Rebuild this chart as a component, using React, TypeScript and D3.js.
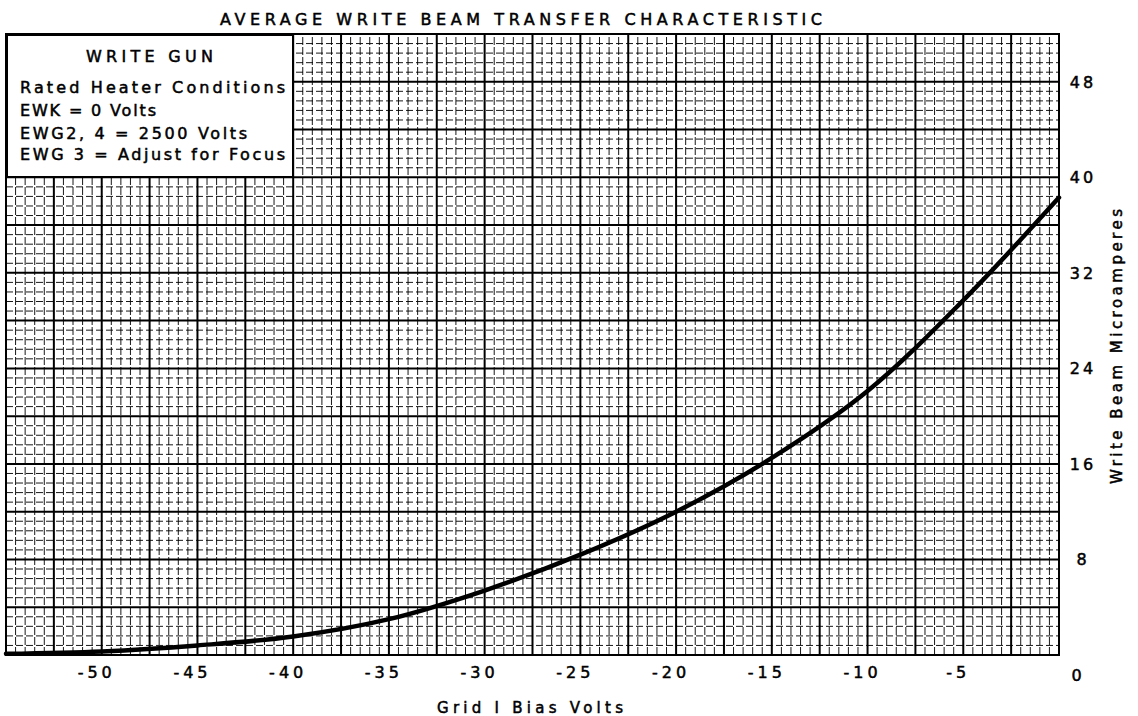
import * as d3 from "d3";
import { useEffect, useRef } from "react";

// curve: grid 1 bias (V) vs write beam current (uA)
const biasVolts = [-55, -50, -45, -40, -35, -30, -25, -20, -15, -10, -5, 0];
const beamMicroamps = [0.1, 0.3, 0.8, 1.55, 3.0, 5.4, 8.4, 12.0, 16.5, 22.1, 29.7, 38.3];

const xTickValues = [-50, -45, -40, -35, -30, -25, -20, -15, -10, -5];
const yTickValues = [0, 8, 16, 24, 32, 40, 48];

const titleText = "AVERAGE WRITE BEAM TRANSFER CHARACTERISTIC";
const xTitle = "Grid I Bias Volts";
const yTitle = "Write Beam Microamperes";
const legendHead = "WRITE GUN";
const legendLines = ["Rated Heater Conditions", "EWK = 0 Volts", "EWG2, 4 = 2500 Volts", "EWG 3 = Adjust for Focus"];

export default function App() {
    const ref = useRef<SVGSVGElement>(null);

    useEffect(() => {
        drawChart();
    }, []);

    function drawChart() {
        const svg = d3.select(ref.current);
        svg.selectAll("*").remove();
        const font = "'DejaVu Sans', sans-serif";

        const x = d3.scaleLinear().domain([-55, 0]).range([6, 1059]);
        const y = d3.scaleLinear().domain([0, 52]).range([655, 34]);

        svg.append("rect").attr("width", 1138).attr("height", 716).attr("fill", "#fff");

        // graph paper: fine lines every 0.5 V / 0.8 uA, heavy every 2.5 V / 4 uA
        const gridG = svg.append("g");
        d3.range(0, 111).forEach(i => {
            const v = -55 + i * 0.5;
            const major = i % 5 === 0;
            gridG.append("line")
                .attr("x1", x(v)).attr("x2", x(v))
                .attr("y1", y(0)).attr("y2", y(52))
                .attr("stroke", "#000")
                .attr("stroke-width", major ? 2 : 1)
                .attr("stroke-dasharray", major ? null : "8,2")
                .attr("opacity", major ? 1 : 0.9);
        });
        d3.range(0, 66).forEach(i => {
            const u = i * 0.8;
            const major = i % 5 === 0;
            gridG.append("line")
                .attr("x1", x(-55)).attr("x2", x(0))
                .attr("y1", y(u)).attr("y2", y(u))
                .attr("stroke", "#000")
                .attr("stroke-width", major ? 2 : 1)
                .attr("stroke-dasharray", major ? null : "7,3")
                .attr("opacity", major ? 1 : 0.9);
        });

        svg.append("rect")
            .attr("x", x(-55)).attr("y", y(52))
            .attr("width", x(0) - x(-55)).attr("height", y(0) - y(52))
            .attr("fill", "none").attr("stroke", "#000").attr("stroke-width", 2);

        // the curve
        const pts: [number, number][] = biasVolts.map((v, i) => [v, beamMicroamps[i]]);
        const line = d3.line<[number, number]>()
            .x(d => x(d[0]))
            .y(d => y(d[1]))
            .curve(d3.curveCatmullRom.alpha(0.5));
        svg.append("path")
            .attr("d", line(pts))
            .attr("fill", "none")
            .attr("stroke", "#000")
            .attr("stroke-width", 4.5)
            .attr("stroke-linecap", "round");

        const textStyle = (sel: any, size: string) => sel
            .style("font-family", font).style("font-size", size)
            .attr("fill", "#000").attr("stroke", "#000").attr("stroke-width", 0.5);

        // legend box
        svg.append("rect")
            .attr("x", 7).attr("y", 35).attr("width", 286).attr("height", 142)
            .attr("fill", "#fff").attr("stroke", "#000").attr("stroke-width", 2);
        textStyle(svg.append("text")
            .attr("x", 86).attr("y", 62)
            .attr("textLength", 127).attr("lengthAdjust", "spacing"), "16px")
            .text(legendHead);
        const legendWidths = [265, 136, 227, 265];
        const legendBase = [93, 116, 139, 160];
        legendLines.forEach((t, i) => {
            textStyle(svg.append("text")
                .attr("x", 20).attr("y", legendBase[i])
                .attr("textLength", legendWidths[i]).attr("lengthAdjust", "spacing"), "16px")
                .text(t);
        });

        // title
        textStyle(svg.append("text")
            .attr("x", 220).attr("y", 25)
            .attr("textLength", 602).attr("lengthAdjust", "spacing"), "16px")
            .text(titleText);

        // x tick labels
        textStyle(svg.selectAll(".xtick").data(xTickValues).enter().append("text")
            .attr("class", "xtick")
            .attr("x", d => x(d) - 5)
            .attr("y", 678)
            .attr("text-anchor", "middle")
            .style("letter-spacing", "4px"), "16px")
            .text(d => String(d));

        // y tick labels on the right
        textStyle(svg.selectAll(".ytick").data(yTickValues).enter().append("text")
            .attr("class", "ytick")
            .attr("x", d => (d === 0 ? 1078 : 1083))
            .attr("y", d => (d === 0 ? y(d) + 20 : y(d)))
            .attr("dy", "0.36em")
            .attr("text-anchor", "middle")
            .style("letter-spacing", "3px"), "16px")
            .text(d => String(d));

        // axis titles
        textStyle(svg.append("text")
            .attr("x", 437).attr("y", 713)
            .attr("textLength", 186).attr("lengthAdjust", "spacing"), "15px")
            .text(xTitle);
        textStyle(svg.append("text")
            .attr("transform", "translate(1122," + (y(26) + 2) + ") rotate(-90)")
            .attr("text-anchor", "middle")
            .attr("textLength", 275).attr("lengthAdjust", "spacing"), "15px")
            .text(yTitle);
    }

    return (
        <svg ref={ref} width={1138} height={716} style={{ position: "absolute", left: 0, top: 0 }} />
    );
}
